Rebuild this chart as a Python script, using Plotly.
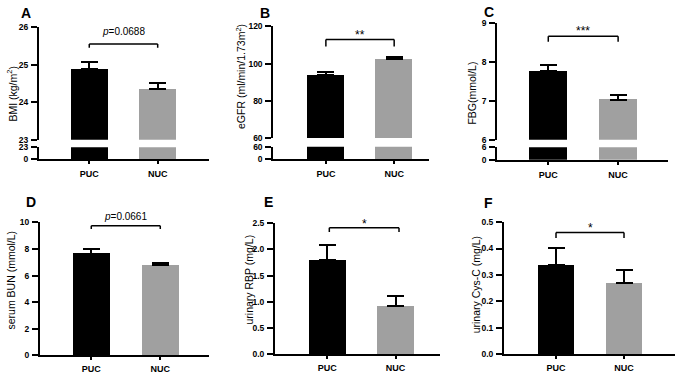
import plotly.graph_objects as go

# ---------------- data ----------------
groups = ["PUC", "NUC"]
bar_colors = ["#000000", "#a0a0a0"]

bmi_mean = [24.87, 24.36]
bmi_err = [0.20, 0.16]
egfr_mean = [93.9, 102.5]
egfr_err = [1.4, 1.1]
fbg_mean = [7.76, 7.03]
fbg_err = [0.17, 0.11]
bun_mean = [7.66, 6.78]
bun_err = [0.36, 0.17]
rbp_mean = [1.80, 0.93]
rbp_err = [0.29, 0.18]
cysc_mean = [0.336, 0.268]
cysc_err = [0.067, 0.052]

panel_letters = ["A", "B", "C", "D", "E", "F"]
y_titles = ["BMI (kg/m<sup>2</sup>)", "eGFR (ml/min/1.73m<sup>2</sup>)", "FBG(mmol/L)",
            "serum BUN (mmol/L)", "urinary RBP (mg/L)", "urinary Cys-C (mg/L)"]
sig_labels = ["<i>p</i>=0.0688", "**", "***", "<i>p</i>=0.0661", "*", "*"]

bmi_ticks_up = [23, 24, 25, 26]
bmi_ticks_low = [0, 23]
egfr_ticks_up = [60, 80, 100, 120]
egfr_ticks_low = [0, 60]
fbg_ticks_up = [6, 7, 8, 9]
fbg_ticks_low = [0, 6]
bun_ticks = [0, 2, 4, 6, 8, 10]
rbp_ticks = [0.0, 0.5, 1.0, 1.5, 2.0, 2.5]
cysc_ticks = [0.0, 0.1, 0.2, 0.3, 0.4, 0.5]

# ---------------- layout helpers ----------------
W, H = 677, 377
FONT = "Liberation Sans"


def fx(p):
    return p / W


def fy(p):
    return 1 - p / H


panels = [
    dict(mean=bmi_mean, err=bmi_err, x0=39, x1=209, xr=[-0.735, 1.75],
         up=(22.7, 138.3, [23, 26], bmi_ticks_up), low=(146, 158.3, [0, 23], bmi_ticks_low),
         fmt="", bracket=(0, 1, 25.55, 25.45), sig_y=27, std=2, sig_size=10,
         title_xy=(12, 92), letter_xy=(26, 8)),
    dict(mean=egfr_mean, err=egfr_err, x0=273.3, x1=429, xr=[-0.77, 1.51],
         up=(22, 136.7, [60, 120], egfr_ticks_up), low=(145.7, 158.3, [0, 60], egfr_ticks_low),
         fmt="", bracket=(0, 1, 113, 109.2), sig_y=31, std=2, sig_size=12,
         title_xy=(240, 74), letter_xy=(265, 8)),
    dict(mean=fbg_mean, err=fbg_err, x0=497.3, x1=667.7, xr=[-0.73, 1.71],
         up=(19, 138.3, [6, 9], fbg_ticks_up), low=(146, 159, [0, 6], fbg_ticks_low),
         fmt="", bracket=(0, 1, 8.67, 8.53), sig_y=27, std=2, sig_size=12,
         title_xy=(472, 91), letter_xy=(489, 7)),
    dict(mean=bun_mean, err=bun_err, x0=40, x1=209, xr=[-0.743, 1.706],
         up=(223.3, 360, [0, 10], bun_ticks), low=None,
         fmt="", bracket=(0, 1, 9.75, 9.51), sig_y=217.5, std=1, sig_size=10,
         title_xy=(11, 283), letter_xy=(31, 202)),
    dict(mean=rbp_mean, err=rbp_err, x0=275, x1=440, xr=[-0.765, 1.65],
         up=(224, 359, [0, 2.5], rbp_ticks), low=None,
         fmt=".1f", bracket=(0.03, 1.05, 2.41, 2.33), sig_y=224.5, std=1, sig_size=12,
         title_xy=(249, 282), letter_xy=(268, 202)),
    dict(mean=cysc_mean, err=cysc_err, x0=504, x1=675, xr=[-0.765, 1.75],
         up=(223, 358.7, [0, 0.5], cysc_ticks), low=None,
         fmt=".1f", bracket=(0, 1, 0.461, 0.44), sig_y=229.5, std=1, sig_size=12,
         title_xy=(476, 288), letter_xy=(488, 203)),
]

fig = go.Figure()
layout = dict(width=W, height=H, margin=dict(l=0, r=0, t=0, b=0),
              paper_bgcolor="white", plot_bgcolor="white", showlegend=False,
              font=dict(family=FONT, color="black"), bargap=0)
shapes, annotations = [], []

yaxis_style = dict(showline=True, linewidth=2, linecolor="black", ticks="outside",
                   ticklen=6, tickwidth=2, tickcolor="black", showgrid=False, zeroline=False,
                   tickfont=dict(family=FONT, size=8.5, color="black", weight="bold"),
                   ticklabelstandoff=1)

axis_n = 0
for i, p in enumerate(panels):
    axis_n += 1
    xid = "x" if axis_n == 1 else f"x{axis_n}"
    xname = "xaxis" if axis_n == 1 else f"xaxis{axis_n}"
    ylow_id = "y" if axis_n == 1 else f"y{axis_n}"
    ylow_name = "yaxis" if axis_n == 1 else f"yaxis{axis_n}"

    if p["low"] is not None:
        top, bot, rng, tv = p["low"]
        layout[ylow_name] = dict(domain=[fy(bot), fy(top)], range=rng, tickvals=tv,
                                 anchor=xid, **yaxis_style)
        fig.add_trace(go.Bar(x=groups, y=p["mean"], xaxis=xid, yaxis=ylow_id,
                             marker=dict(color=bar_colors, line=dict(width=0)), width=0.54,
                             hoverinfo="skip"))
        axis_n += 1
        yup_id = f"y{axis_n}"
        yup_name = f"yaxis{axis_n}"
    else:
        yup_id, yup_name = ylow_id, ylow_name

    top, bot, rng, tv = p["up"]
    layout[yup_name] = dict(domain=[fy(bot), fy(top)], range=rng, tickvals=tv,
                            anchor=xid, tickformat=p["fmt"], **yaxis_style)

    layout[xname] = dict(domain=[fx(p["x0"]), fx(p["x1"])], range=p["xr"], type="category",
                         anchor=ylow_id, showline=True, linewidth=2, linecolor="black",
                         ticks="outside", ticklen=3, tickwidth=1.5, tickcolor="black",
                         showgrid=False, zeroline=False,
                         tickfont=dict(family=FONT, size=9, color="black", weight="bold"),
                         ticklabelstandoff=p["std"])

    fig.add_trace(go.Bar(x=groups, y=p["mean"], xaxis=xid, yaxis=yup_id,
                         marker=dict(color=bar_colors, line=dict(width=0)), width=0.54,
                         error_y=dict(type="data", symmetric=False, array=p["err"],
                                      arrayminus=[0, 0], color="black", thickness=2, width=8.5)))

    # significance bracket
    bx0, bx1, btop, bend = p["bracket"]
    for (a, b, c, d) in [(bx0, bend, bx0, btop), (bx0, btop, bx1, btop), (bx1, btop, bx1, bend)]:
        shapes.append(dict(type="line", xref=xid, yref=yup_id, x0=a, y0=b, x1=c, y1=d,
                           line=dict(color="black", width=1.5)))
    annotations.append(dict(text=sig_labels[i], xref=xid, yref="paper", x=(bx0 + bx1) / 2,
                            y=fy(p["sig_y"]), showarrow=False, xanchor="center", yanchor="middle",
                            font=dict(family=FONT, size=p["sig_size"], color="black")))
    # y title
    tx, ty = p["title_xy"]
    annotations.append(dict(text=y_titles[i], xref="paper", yref="paper", x=fx(tx), y=fy(ty),
                            textangle=-90, showarrow=False, xanchor="center", yanchor="middle",
                            font=dict(family=FONT, size=10.5, color="black")))
    # panel letter
    lx, ly = p["letter_xy"]
    annotations.append(dict(text=panel_letters[i], xref="paper", yref="paper", x=fx(lx), y=fy(ly),
                            showarrow=False, xanchor="center", yanchor="middle",
                            font=dict(family=FONT, size=14, color="black", weight="bold")))

layout["shapes"] = shapes
layout["annotations"] = annotations
fig.update_layout(**layout)
fig.write_html("out.html", config={"displayModeBar": False},
               post_script="document.body.style.margin='0';document.body.style.padding='0';"
                           "document.documentElement.style.overflow='hidden';")
